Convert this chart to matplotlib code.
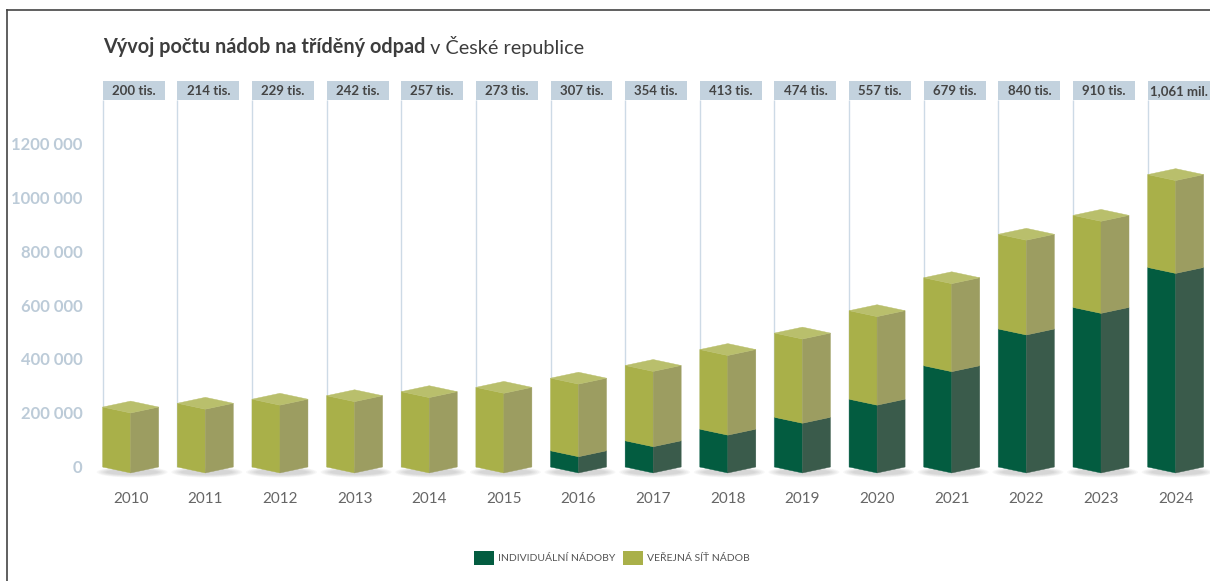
import matplotlib.pyplot as plt
from matplotlib.patches import Polygon, Ellipse, Rectangle, Patch
from matplotlib.lines import Line2D

plt.rcParams['font.family'] = ['Lato', 'DejaVu Sans']

years = [2010, 2011, 2012, 2013, 2014, 2015, 2016, 2017, 2018, 2019, 2020, 2021, 2022, 2023, 2024]
individual = [0, 0, 0, 0, 0, 0, 38000, 75000, 118000, 162000, 229000, 353000, 489000, 569000, 717000]
public = [200000, 214000, 229000, 242000, 257000, 273000, 269000, 279000, 295000, 312000,
          328000, 326000, 351000, 341000, 344000]
total_labels = ["200 tis.", "214 tis.", "229 tis.", "242 tis.", "257 tis.", "273 tis.", "307 tis.",
                "354 tis.", "413 tis.", "474 tis.", "557 tis.", "679 tis.", "840 tis.", "910 tis.",
                "1,061 mil."]
y_ticks = [0, 200000, 400000, 600000, 800000, 1000000, 1200000]

DARK_FRONT, DARK_SIDE, DARK_TOP = '#035c40', '#3a5b4b', '#2f7a5c'
LIGHT_FRONT, LIGHT_SIDE, LIGHT_TOP = '#a9b049', '#9c9d61', '#b9bf6c'
POLE = '#cddae6'
BOX = '#c3d2de'

HALF_W = 0.375      # half width of a box in category units
DEPTH = 22000       # vertical skew of the 3d look, in value units


def box_segment(ax, x, lo, hi, front, side, top=None):
    left = [(x - HALF_W, lo + DEPTH), (x, lo), (x, hi), (x - HALF_W, hi + DEPTH)]
    right = [(x, lo), (x + HALF_W, lo + DEPTH), (x + HALF_W, hi + DEPTH), (x, hi)]
    ax.add_patch(Polygon(left, closed=True, fc=front, ec=front, lw=0.3, zorder=3))
    ax.add_patch(Polygon(right, closed=True, fc=side, ec=side, lw=0.3, zorder=3))
    if top is not None:
        cap = [(x - HALF_W, hi + DEPTH), (x, hi), (x + HALF_W, hi + DEPTH), (x, hi + 2 * DEPTH)]
        ax.add_patch(Polygon(cap, closed=True, fc=top, ec=top, lw=0.3, zorder=3))


fig = plt.figure(figsize=(12.1, 5.81), dpi=100)
ax = fig.add_axes([95 / 1210, 96 / 581, 1115 / 1210, 410 / 581])
ax.set_xlim(-0.478, 14.46)
ax.set_ylim(-66700, 1451900)
for s in ax.spines.values():
    s.set_visible(False)

ax.set_yticks(y_ticks)
ax.set_yticklabels(["0" if v == 0 else f"{v // 1000} 000" for v in y_ticks],
                   color='#bccbd8', fontsize=12, fontweight='bold')
xs = list(range(len(years)))
ax.set_xticks(xs)
ax.set_xticklabels([str(y) for y in years], color='#666666', fontsize=11)
ax.tick_params(axis='y', length=0, pad=9)
ax.tick_params(axis='x', length=0, pad=5)

box_bottom, box_h, box_w = 1359000, 70000, 0.83
for x, ind, pub, lab in zip(xs, individual, public, total_labels):
    # pole + label box
    ax.vlines(x - HALF_W, 0, box_bottom, color=POLE, lw=1.0, zorder=1)
    ax.add_patch(Rectangle((x - HALF_W, box_bottom), box_w, box_h, fc=BOX, ec='none', zorder=2))
    ax.text(x - HALF_W + box_w / 2, box_bottom + box_h / 2, lab, ha='center', va='center',
            fontsize=9.5, fontweight='bold', color='#444444', zorder=4)

    # soft shadow under the box
    for k in range(6):
        ax.add_patch(Ellipse((x + 0.02, -DEPTH + 3000), 0.95 - 0.05 * k, 40000 - 4000 * k,
                             fc='#6f6f6f', ec='none', alpha=0.05, zorder=2))

    base = -DEPTH
    if ind > 0:
        box_segment(ax, x, base, ind, DARK_FRONT, DARK_SIDE)
        base = ind
    box_segment(ax, x, base, ind + pub, LIGHT_FRONT, LIGHT_SIDE, LIGHT_TOP)

# title
t1 = fig.text(103 / 1210, 1 - 47 / 581, "Vývoj počtu nádob na tříděný odpad", fontsize=14.3,
              fontweight='bold', color='#3d3d3d', va='center')
ax.annotate(" v České republice", xy=(1, 0), xycoords=t1, va='bottom', ha='left',
            fontsize=14.3, color='#3d3d3d', annotation_clip=False)

# frame
fig.add_artist(Line2D([7 / 1210, 1], [1 - 10 / 581] * 2, transform=fig.transFigure, color='#444444', lw=1.2))
fig.add_artist(Line2D([7 / 1210] * 2, [0, 1 - 10 / 581], transform=fig.transFigure, color='#444444', lw=1.2))

handles = [Patch(fc=DARK_FRONT, ec='none', label="INDIVIDUÁLNÍ NÁDOBY"),
           Patch(fc=LIGHT_FRONT, ec='none', label="VEŘEJNÁ SÍŤ NÁDOB")]
fig.legend(handles=handles, loc='center', bbox_to_anchor=(612 / 1210, 1 - 558 / 581), ncol=2,
           frameon=False, fontsize=7.5, labelcolor='#555555', handlelength=1.9, handleheight=1.8,
           handletextpad=0.4, columnspacing=0.8)

fig.savefig("out.png", dpi=100)
